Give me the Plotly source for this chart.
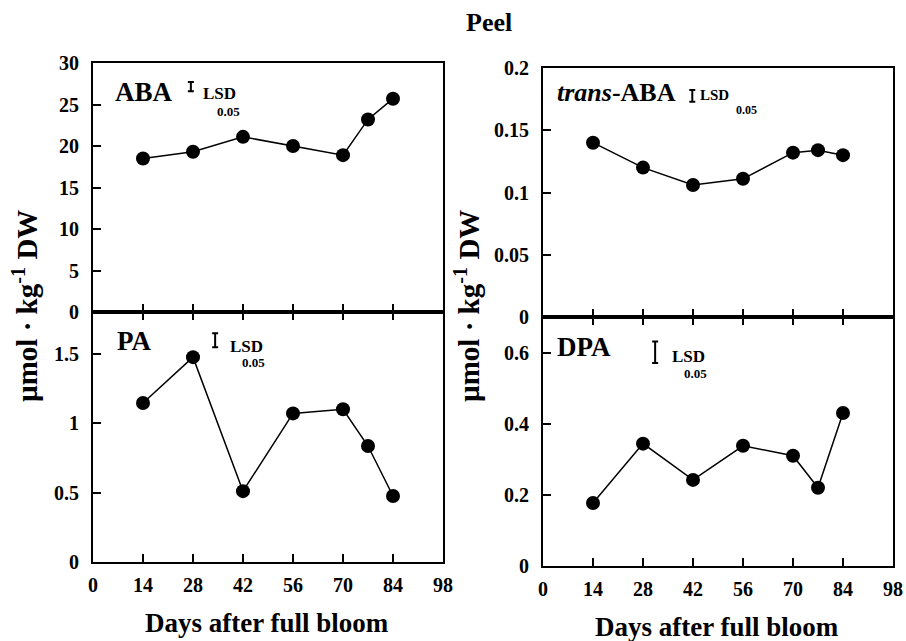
import plotly.graph_objects as go

# ---- data ----
days = [14, 28, 42, 56, 70, 77, 84]
aba = [18.5, 19.3, 21.1, 20.0, 18.9, 23.2, 25.7]
trans_aba = [0.140, 0.120, 0.106, 0.111, 0.132, 0.134, 0.130]
pa = [1.145, 1.475, 0.51, 1.07, 1.10, 0.835, 0.475]
dpa = [0.177, 0.344, 0.242, 0.338, 0.310, 0.220, 0.430]

x_ticks = [0, 14, 28, 42, 56, 70, 84, 98]
aba_ticks = [0, 5, 10, 15, 20, 25, 30]
trans_ticks = [0, 0.05, 0.1, 0.15, 0.2]
pa_ticks = [0, 0.5, 1, 1.5]
dpa_ticks = [0, 0.2, 0.4, 0.6]

# LSD(0.05) bars: day position, centre, half length
lsd_day = [27.4, 41.8, 34.2, 31.4]
lsd_center = [27.15, 0.1776, 1.597, 0.601]
lsd_half = [0.55, 0.0048, 0.05, 0.03]

panel_names = ["ABA", "<i>trans</i>-ABA", "PA", "DPA"]
series = [aba, trans_aba, pa, dpa]

FONT = "Liberation Serif, Times New Roman, serif"
W, H = 906, 641

fig = go.Figure()
axes = ["", "2", "3", "4"]
for i, (vals, ax) in enumerate(zip(series, axes)):
    fig.add_trace(go.Scatter(
        x=days, y=vals, mode="lines+markers",
        line=dict(color="black", width=1.5),
        marker=dict(color="black", size=14),
        xaxis="x" + ax, yaxis="y" + ax, showlegend=False))
    fig.add_trace(go.Scatter(
        x=[lsd_day[i]], y=[lsd_center[i]], mode="markers",
        marker=dict(size=1, color="rgba(0,0,0,0)"),
        error_y=dict(type="data", array=[lsd_half[i]], color="black",
                     thickness=2, width=3),
        xaxis="x" + ax, yaxis="y" + ax, showlegend=False))

def px_x(a, b):
    return [a / W, b / W]

def px_y(top, bottom):
    return [1 - bottom / H, 1 - top / H]

xdom_l = px_x(93, 443)
xdom_r = px_x(543, 893)
ydom_tl = px_y(63, 312)
ydom_bl = px_y(312, 562)
ydom_tr = px_y(68, 317)
ydom_br = px_y(317, 566)

tick_font = dict(family=FONT, size=20, color="black", weight="bold")

def xaxis(dom, anchor, labels):
    return dict(domain=dom, anchor=anchor, range=[0, 98], tickvals=x_ticks,
                ticks="inside", ticklen=8, tickwidth=2, tickcolor="black",
                showline=True, linecolor="black", linewidth=2,
                mirror="ticks" if labels else True, automargin=False,
                showgrid=False, zeroline=False, showticklabels=labels,
                tickfont=tick_font, ticklabelstandoff=4)

def yaxis(dom, anchor, rng, ticks):
    return dict(domain=dom, anchor=anchor, range=rng, tickvals=ticks,
                ticks="inside", ticklen=8, tickwidth=2, tickcolor="black",
                showline=True, linecolor="black", linewidth=2, mirror=True,
                showgrid=False, zeroline=False, automargin=False,
                tickfont=tick_font, ticklabelstandoff=8)

fig.update_layout(
    width=W, height=H, margin=dict(l=0, r=0, t=0, b=0, autoexpand=False),
    paper_bgcolor="white", plot_bgcolor="white",
    font=dict(family=FONT, color="black"),
    xaxis=xaxis(xdom_l, "y", False),
    yaxis=yaxis(ydom_tl, "x", [0, 30], aba_ticks),
    xaxis2=xaxis(xdom_r, "y2", False),
    yaxis2=yaxis(ydom_tr, "x2", [0, 0.2], trans_ticks),
    xaxis3=xaxis(xdom_l, "y3", True),
    yaxis3=yaxis(ydom_bl, "x3", [0, 1.8], pa_ticks),
    xaxis4=xaxis(xdom_r, "y4", True),
    yaxis4=yaxis(ydom_br, "x4", [0, 0.7], dpa_ticks),
)

ann = []
# panel labels (left anchored)
label_pos = [(5.6, 26.5, "x", "y", 27), (3.4, 0.180, "x2", "y2", 26),
             (6.2, 1.59, "x3", "y3", 27), (3.4, 0.617, "x4", "y4", 27)]
for name, (x, y, xr, yr, fs) in zip(panel_names, label_pos):
    ann.append(dict(x=x, y=y, xref=xr, yref=yr, text=name, showarrow=False,
                    xanchor="left", yanchor="middle",
                    font=dict(family=FONT, size=fs, color="black", weight="bold")))
# LSD text
lsd_pos = [((35.3, 26.3), (37.8, 24.1), "x", "y", 17, 13),
           ((48.0, 0.1784), (57.0, 0.1660), "x2", "y2", 15, 12),
           ((43.1, 1.555), (44.8, 1.433), "x3", "y3", 17, 13),
           ((40.6, 0.588), (42.6, 0.540), "x4", "y4", 17, 13)]
for (l, s, xr, yr, f1, f2) in lsd_pos:
    ann.append(dict(x=l[0], y=l[1], xref=xr, yref=yr, text="LSD", showarrow=False,
                    xanchor="center", yanchor="middle",
                    font=dict(family=FONT, size=f1, color="black", weight="bold")))
    ann.append(dict(x=s[0], y=s[1], xref=xr, yref=yr, text="0.05", showarrow=False,
                    xanchor="center", yanchor="middle",
                    font=dict(family=FONT, size=f2, color="black", weight="bold")))

# titles
ann.append(dict(x=489 / W, y=1 - 22 / H, xref="paper", yref="paper", text="Peel",
                xanchor="center", yanchor="middle", showarrow=False,
                font=dict(family=FONT, size=26, color="black", weight="bold")))
for cx, cy in [(267, 623), (717, 627)]:
    ann.append(dict(x=cx / W, y=1 - cy / H, xref="paper", yref="paper",
                    text="Days after full bloom", showarrow=False,
                    xanchor="center", yanchor="middle",
                    font=dict(family=FONT, size=27, color="black", weight="bold")))
for cx in [25, 467]:
    ann.append(dict(x=cx / W, y=1 - 306 / H, xref="paper", yref="paper",
                    text="µmol · kg<sup>-1</sup> DW", textangle=-90, showarrow=False,
                    xanchor="center", yanchor="middle",
                    font=dict(family=FONT, size=29, color="black", weight="bold")))

fig.update_layout(annotations=ann)
fig.write_html("out.html", config={"displayModeBar": False},
               post_script="document.body.style.margin='0';")
